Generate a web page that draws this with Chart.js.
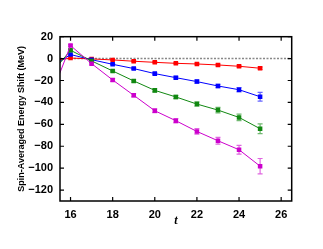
<!DOCTYPE html>
<html><head><meta charset="utf-8">
<script src="https://cdn.jsdelivr.net/npm/chart.js@4/dist/chart.umd.min.js"></script>
<style>html,body{margin:0;padding:0;background:#fff}#wrap{width:323px;height:249px}</style>
</head><body><div id="wrap"><canvas id="c" width="323" height="249"></canvas></div>
<script>
const tValues = [15,16,17,18,19,20,21,22,23,24,25];
const redValues = [-2.5,0.5,-0.3,-1.2,-2.4,-3.4,-4.3,-4.9,-5.8,-7.0,-8.8];
const redErrors = [0.3,0.3,0.3,0.4,0.5,0.6,0.6,0.7,0.8,0.9,1.0];
const blueValues = [-8.7,3.7,-1.0,-5.2,-9.1,-13.7,-17.4,-21.0,-25.0,-28.4,-34.8];
const blueErrors = [0.5,0.5,0.5,0.6,0.8,1.0,1.1,1.3,1.6,2.0,4.0];
const greenValues = [-15.6,7.6,-2.1,-11.3,-20.4,-29.0,-35.0,-41.5,-47.0,-53.7,-64.0];
const greenErrors = [0.6,0.6,0.7,0.9,1.1,1.3,1.5,2.0,2.5,3.0,4.5];
const magentaValues = [-37.5,11.9,-4.6,-19.5,-33.5,-47.6,-56.7,-66.5,-75.0,-83.2,-98.2];
const magentaErrors = [0.8,0.8,1.0,1.2,1.4,1.7,2.0,2.5,3.0,4.0,7.0];
const xTicks = [16,18,20,22,24,26];
const yTicks = [20,0,-20,-40,-60,-80,-100,-120];

function mk(vals, errs, color, errColor){
  return {data: tValues.map((t,i)=>({x:t,y:vals[i]})), errors: errs, errColor: errColor,
    borderColor: color, backgroundColor: color, borderWidth: 1, pointStyle:'rect',
    pointRadius: 3.2, pointBorderWidth: 0, tension: 0, showLine: true};
}
const datasets = [
  mk(magentaValues, magentaErrors, '#cc00cc', 'rgba(204,0,204,0.6)'),
  mk(greenValues, greenErrors, '#118811', 'rgba(17,136,17,0.6)'),
  mk(blueValues, blueErrors, '#0000ff', 'rgba(0,0,255,0.6)'),
  mk(redValues, redErrors, '#ff0000', 'rgba(255,0,0,0.6)')
];

const framePlugin = {
  id:'frame',
  beforeDatasetsDraw(chart){
    const {ctx, chartArea:a, scales:{x,y}} = chart;
    ctx.save();
    ctx.beginPath(); ctx.rect(a.left,a.top,a.right-a.left,a.bottom-a.top); ctx.clip();
    ctx.strokeStyle='#888'; ctx.lineWidth=1.5; ctx.setLineDash([2,1.5]);
    const y0 = y.getPixelForValue(0);
    ctx.beginPath(); ctx.moveTo(a.left,y0); ctx.lineTo(a.right,y0); ctx.stroke();
    ctx.setLineDash([]);
    chart.data.datasets.forEach(ds=>{
      ctx.strokeStyle = ds.errColor; ctx.lineWidth = 1.2;
      ds.data.forEach((p,i)=>{
        const e = ds.errors[i];
        const px = x.getPixelForValue(p.x);
        const yt = y.getPixelForValue(p.y+e), yb = y.getPixelForValue(p.y-e);
        ctx.beginPath();
        ctx.moveTo(px,yt); ctx.lineTo(px,yb);
        ctx.moveTo(px-2.5,yt); ctx.lineTo(px+2.5,yt);
        ctx.moveTo(px-2.5,yb); ctx.lineTo(px+2.5,yb);
        ctx.stroke();
      });
    });
    ctx.restore();
  },
  afterDraw(chart){
    const {ctx, chartArea:a, scales:{x,y}} = chart;
    ctx.save();
    ctx.strokeStyle='#000'; ctx.lineWidth=1.5;
    ctx.strokeRect(a.left,a.top,a.right-a.left,a.bottom-a.top);
    ctx.lineWidth=1.2;
    ctx.beginPath();
    xTicks.forEach(v=>{const px=x.getPixelForValue(v);
      ctx.moveTo(px,a.bottom); ctx.lineTo(px,a.bottom-4);
      ctx.moveTo(px,a.top); ctx.lineTo(px,a.top+4);});
    yTicks.forEach(v=>{const py=y.getPixelForValue(v);
      ctx.moveTo(a.left,py); ctx.lineTo(a.left+4,py);
      ctx.moveTo(a.right,py); ctx.lineTo(a.right-4,py);});
    ctx.stroke();
    ctx.restore();
  }
};

new Chart(document.getElementById('c'), {
  type:'scatter',
  data:{datasets},
  options:{
    responsive:false, animation:false, devicePixelRatio:1,
    layout:{padding:{left:0,right:31.3,top:36.7,bottom:0}},
    plugins:{legend:{display:false}, tooltip:{enabled:false}},
    scales:{
      x:{type:'linear', min:15.5, max:26.5,
        afterBuildTicks(s){s.ticks = xTicks.map(v=>({value:v}));},
        afterFit(s){s.height=48;},
        grid:{display:false, drawTicks:false}, border:{display:false},
        ticks:{padding:7, color:'#000', font:{family:'Liberation Sans', size:11, weight:'bold'}, maxRotation:0},
        title:{display:true, text:'t', color:'#000', font:{family:'Liberation Serif', size:12, style:'italic', weight:'bold'}, padding:{top:0,bottom:21}}
      },
      y:{type:'linear', min:-130, max:20,
        afterBuildTicks(s){s.ticks = yTicks.map(v=>({value:v}));},
        afterFit(s){s.width=60;},
        grid:{display:false, drawTicks:false}, border:{display:false},
        ticks:{padding:7, color:'#000', font:{family:'Liberation Sans', size:11, weight:'bold'}, callback:v=>v<0?'\u2212'+Math.abs(v):String(v)},
        title:{display:true, text:'Spin-Averaged Energy Shift (MeV)', color:'#000', font:{family:'Liberation Sans', size:9, weight:'bold'}, padding:{top:16.5,bottom:0}}
      }
    }
  },
  plugins:[framePlugin]
});
</script></body></html>
